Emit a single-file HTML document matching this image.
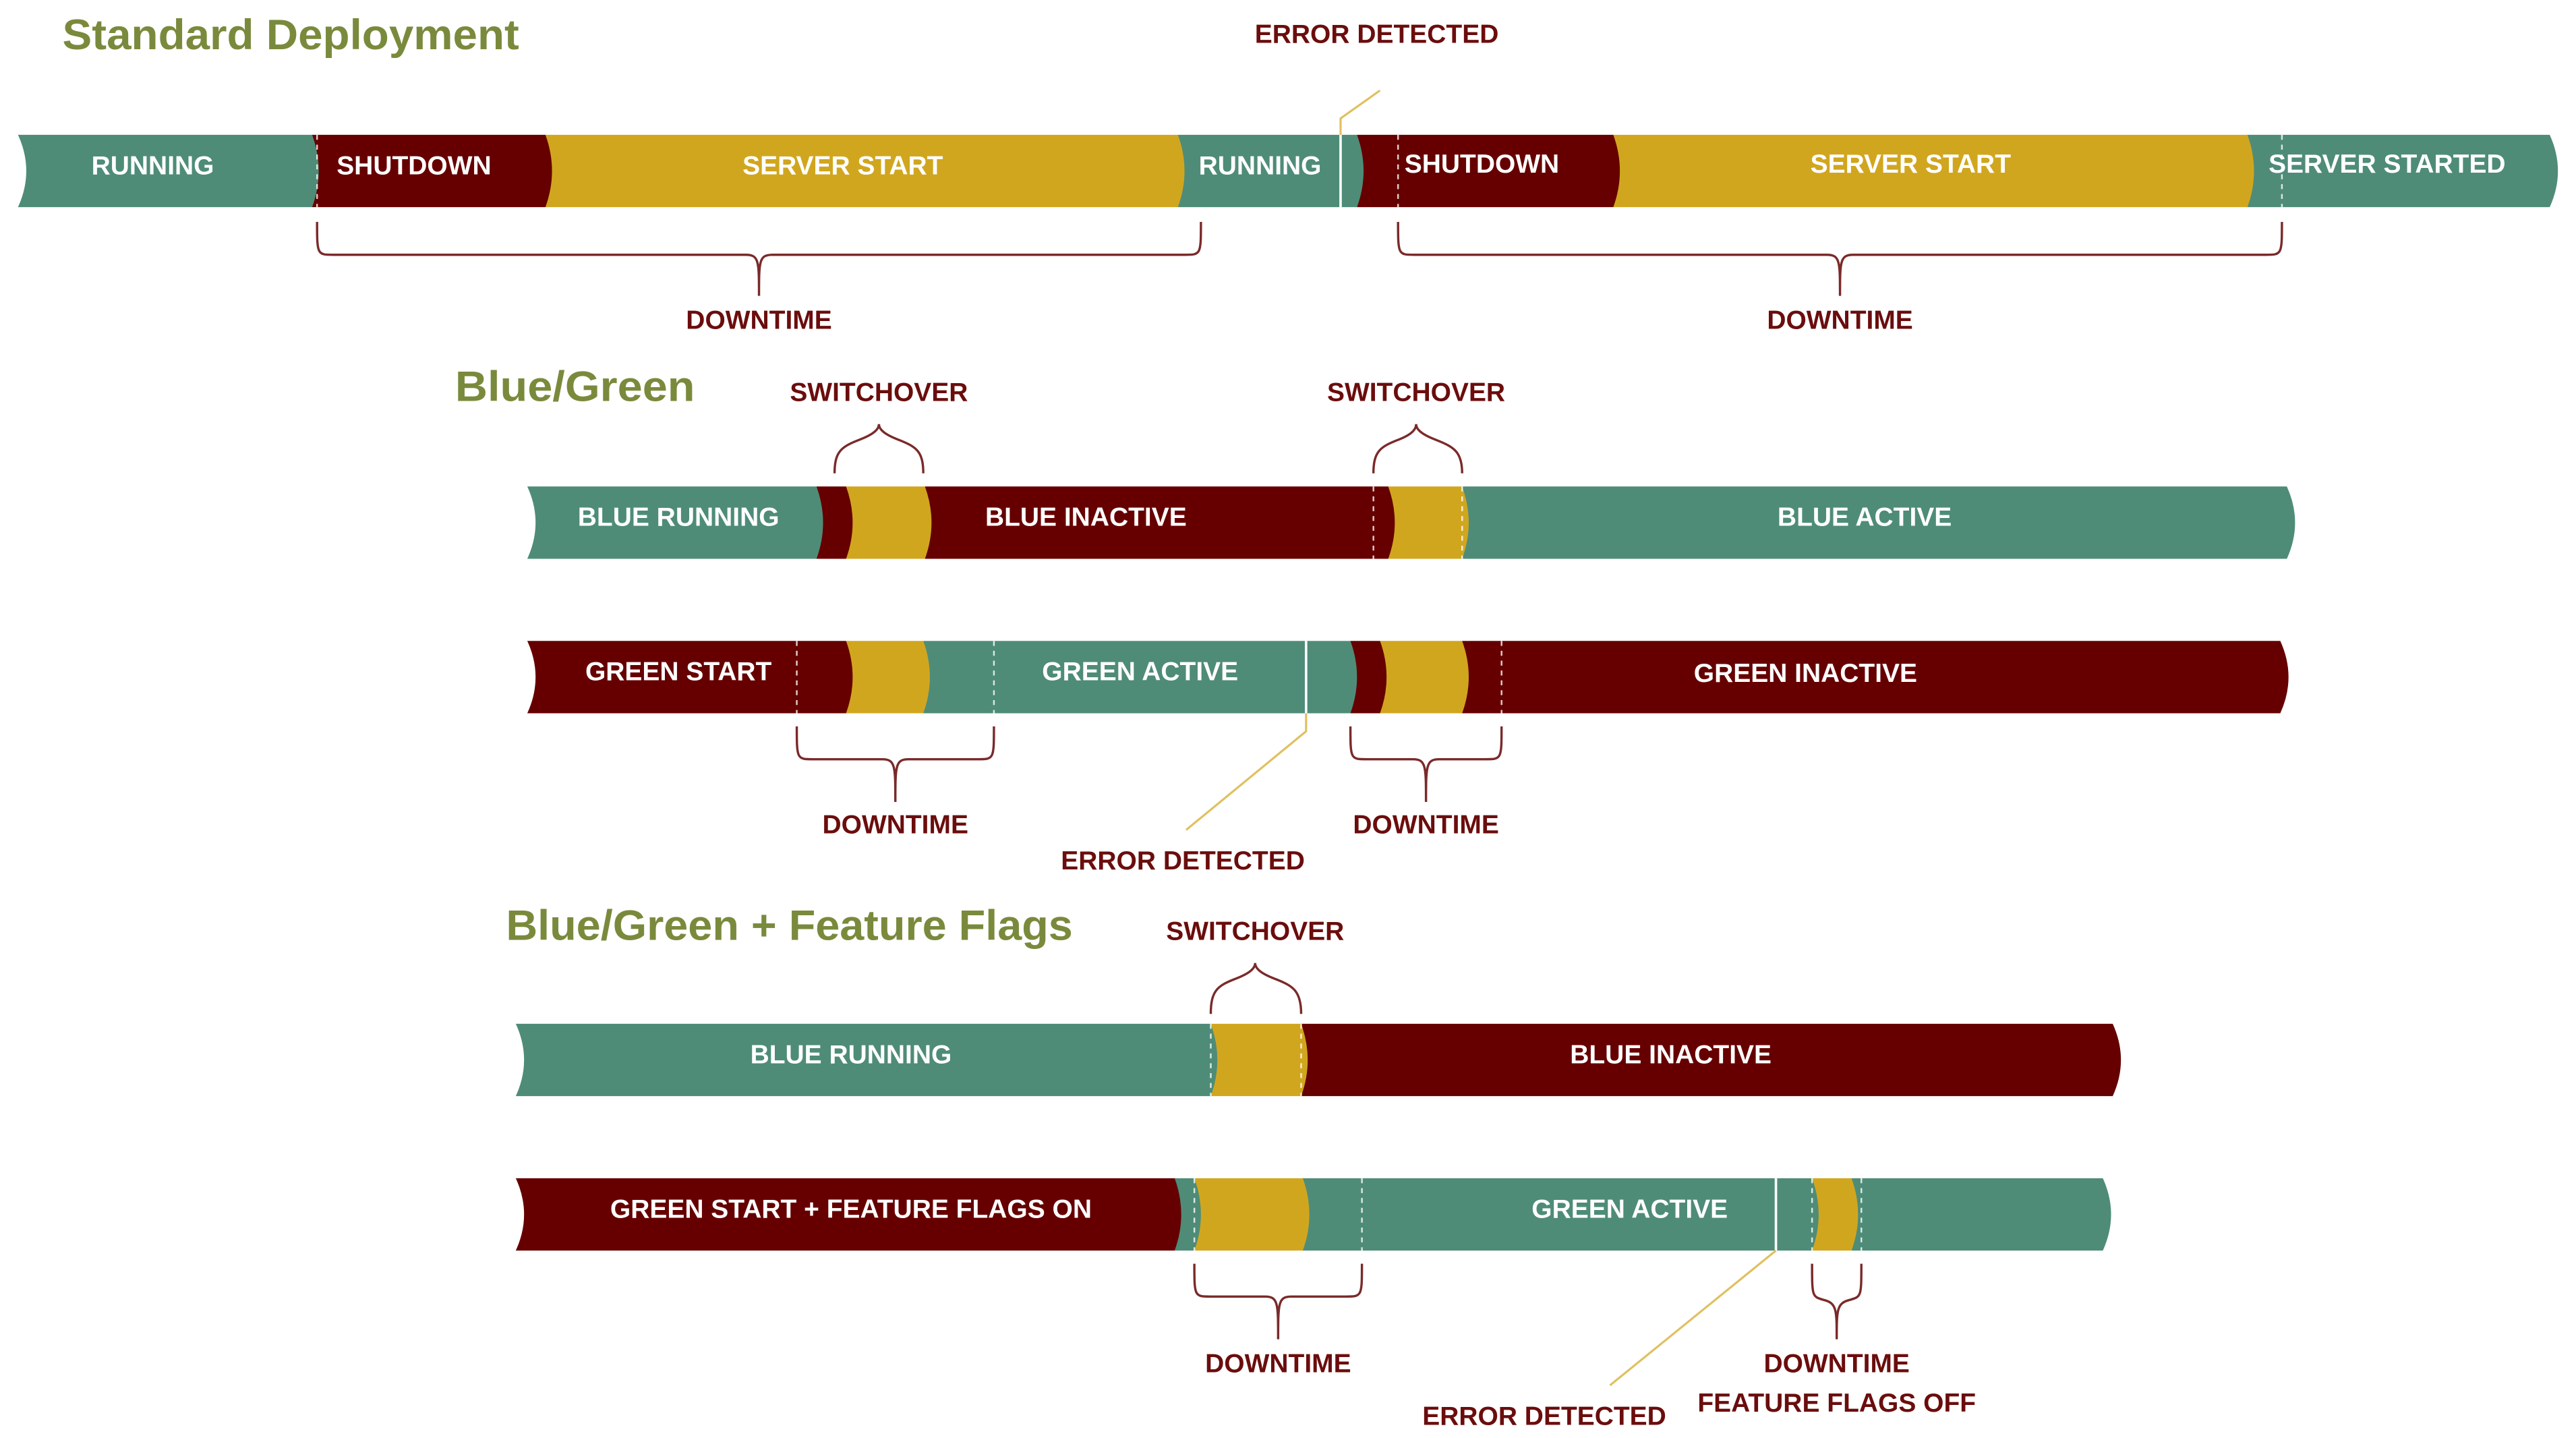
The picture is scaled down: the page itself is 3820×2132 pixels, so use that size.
<!DOCTYPE html>
<html><head><meta charset="utf-8"><style>
html,body{margin:0;padding:0;background:#fff;}
svg{display:block;}
.l{font-family:"Liberation Sans",sans-serif;font-weight:bold;font-size:16px;fill:#fff;text-anchor:middle;}
.d{font-family:"Liberation Sans",sans-serif;font-weight:bold;font-size:16px;fill:#6b0d0d;text-anchor:middle;}
.t{font-family:"Liberation Sans",sans-serif;font-weight:bold;font-size:26px;fill:#7a8a3c;}
.br{fill:none;stroke:#7a2a2a;stroke-width:1.4;}
.ds{stroke:#fff;stroke-width:1;stroke-dasharray:3,3;opacity:.8}
.so{stroke:#fff;stroke-width:1.5}
.el{stroke:#e0c060;stroke-width:1.3;fill:none}
</style></head><body>
<svg width="3820" height="2132" viewBox="0 0 1568 875" xmlns="http://www.w3.org/2000/svg">
<g>
<path fill="#4e8c78" d="M1368 82 L1552 82 Q1562 104 1552 126 L1368 126 Z"/>
<path fill="#d1a61f" d="M982 82 L1368 82 Q1376 104 1368 126 L982 126 Z"/>
<path fill="#660000" d="M826 82 L982 82 Q990 104 982 126 L826 126 Z"/>
<path fill="#4e8c78" d="M717 82 L826 82 Q834 104 826 126 L717 126 Z"/>
<path fill="#d1a61f" d="M332 82 L717 82 Q725 104 717 126 L332 126 Z"/>
<path fill="#660000" d="M190 82 L332 82 Q340 104 332 126 L190 126 Z"/>
<path fill="#4e8c78" d="M10 82 L190 82 Q198 104 190 126 L10 126 Z"/>
<path fill="#fff" d="M8 80 L10 80 Q22 104 10 128 L8 128 Z"/>
<line class="ds" x1="193" y1="82" x2="193" y2="126"/>
<line class="ds" x1="851" y1="82" x2="851" y2="126"/>
<line class="ds" x1="1389" y1="82" x2="1389" y2="126"/>
<line class="so" x1="816" y1="82" x2="816" y2="126"/>
<path class="el" d="M816 82 L816 72 L840 55"/>
<text class="l" x="93" y="106">RUNNING</text>
<text class="l" x="252" y="106">SHUTDOWN</text>
<text class="l" x="513" y="106">SERVER START</text>
<text class="l" x="767" y="106">RUNNING</text>
<text class="l" x="902" y="105">SHUTDOWN</text>
<text class="l" x="1163" y="105">SERVER START</text>
<text class="l" x="1453" y="105">SERVER STARTED</text>
<text class="d" x="838" y="26">ERROR DETECTED</text>
<text class="t" x="38" y="30" textLength="278" lengthAdjust="spacingAndGlyphs">Standard Deployment</text>
<path class="br" d="M193 135 C193 155,193 155,203 155 L454 155 C462 155,462 159,462 180 M731 135 C731 155,731 155,721 155 L470 155 C462 155,462 159,462 180"/>
<path class="br" d="M851 135 C851 155,851 155,861 155 L1112 155 C1120 155,1120 159,1120 180 M1389 135 C1389 155,1389 155,1379 155 L1128 155 C1120 155,1120 159,1120 180"/>
<text class="d" x="462" y="200">DOWNTIME</text>
<text class="d" x="1120" y="200">DOWNTIME</text>
</g>
<text class="t" x="277" y="244" textLength="146" lengthAdjust="spacingAndGlyphs">Blue/Green</text>
<text class="d" x="535" y="244">SWITCHOVER</text>
<text class="d" x="862" y="244">SWITCHOVER</text>
<path class="br" d="M508 288 C508 275,512 272,522 268 C530 265,535 262,535 258 C535 262,540 265,548 268 C558 272,562 275,562 288"/>
<path class="br" d="M836 288 C836 275,840 272,850 268 C858 265,862 262,862 258 C862 262,867 265,875 268 C885 272,890 275,890 288"/>
<g>
<path fill="#4e8c78" d="M890 296 L1392 296 Q1402 318 1392 340 L890 340 Z"/>
<path fill="#d1a61f" d="M845 296 L890 296 Q898 318 890 340 L845 340 Z"/>
<path fill="#660000" d="M563 296 L845 296 Q853 318 845 340 L563 340 Z"/>
<path fill="#d1a61f" d="M515 296 L563 296 Q571 318 563 340 L515 340 Z"/>
<path fill="#660000" d="M497 296 L515 296 Q523 318 515 340 L497 340 Z"/>
<path fill="#4e8c78" d="M320 296 L497 296 Q505 318 497 340 L320 340 Z"/>
<path fill="#fff" d="M318 294 L320 294 Q332 318 320 342 L318 342 Z"/>
<line class="ds" x1="836" y1="296" x2="836" y2="340"/>
<line class="ds" x1="890" y1="296" x2="890" y2="340"/>
<text class="l" x="413" y="320">BLUE RUNNING</text>
<text class="l" x="661" y="320">BLUE INACTIVE</text>
<text class="l" x="1135" y="320">BLUE ACTIVE</text>
</g>
<g>
<path fill="#660000" d="M890 390 L1388 390 Q1398 412 1388 434 L890 434 Z"/>
<path fill="#d1a61f" d="M840 390 L890 390 Q898 412 890 434 L840 434 Z"/>
<path fill="#660000" d="M822 390 L840 390 Q848 412 840 434 L822 434 Z"/>
<path fill="#4e8c78" d="M562 390 L822 390 Q830 412 822 434 L562 434 Z"/>
<path fill="#d1a61f" d="M515 390 L562 390 Q570 412 562 434 L515 434 Z"/>
<path fill="#660000" d="M320 390 L515 390 Q523 412 515 434 L320 434 Z"/>
<path fill="#fff" d="M318 388 L320 388 Q332 412 320 436 L318 436 Z"/>
<line class="ds" x1="485" y1="390" x2="485" y2="434"/>
<line class="ds" x1="605" y1="390" x2="605" y2="434"/>
<line class="ds" x1="914" y1="390" x2="914" y2="434"/>
<line class="so" x1="795" y1="390" x2="795" y2="434"/>
<path class="el" d="M795 434 L795 445 L722 505"/>
<text class="l" x="413" y="414">GREEN START</text>
<text class="l" x="694" y="414">GREEN ACTIVE</text>
<text class="l" x="1099" y="415">GREEN INACTIVE</text>
</g>
<path class="br" d="M485 442 C485 462,485 462,495 462 L537 462 C545 462,545 466,545 488 M605 442 C605 462,605 462,595 462 L553 462 C545 462,545 466,545 488"/>
<path class="br" d="M822 442 C822 462,822 462,832 462 L860 462 C868 462,868 466,868 488 M914 442 C914 462,914 462,904 462 L876 462 C868 462,868 466,868 488"/>
<text class="d" x="545" y="507">DOWNTIME</text>
<text class="d" x="868" y="507">DOWNTIME</text>
<text class="d" x="720" y="529">ERROR DETECTED</text>
<text class="t" x="308" y="572" textLength="345" lengthAdjust="spacingAndGlyphs">Blue/Green + Feature Flags</text>
<text class="d" x="764" y="572">SWITCHOVER</text>
<path class="br" d="M737 617 C737 603,741 600,751 596 C759 593,764 590,764 586 C764 590,769 593,777 596 C787 600,792 603,792 617"/>
<g>
<path fill="#660000" d="M792 623 L1286 623 Q1296 645 1286 667 L792 667 Z"/>
<path fill="#d1a61f" d="M737 623 L792 623 Q800 645 792 667 L737 667 Z"/>
<path fill="#4e8c78" d="M313 623 L737 623 Q745 645 737 667 L313 667 Z"/>
<path fill="#fff" d="M311 621 L313 621 Q325 645 313 669 L311 669 Z"/>
<line class="ds" x1="737" y1="623" x2="737" y2="667"/>
<line class="ds" x1="792" y1="623" x2="792" y2="667"/>
<text class="l" x="518" y="647">BLUE RUNNING</text>
<text class="l" x="1017" y="647">BLUE INACTIVE</text>
</g>
<g>
<path fill="#4e8c78" d="M1127 717 L1280 717 Q1290 739 1280 761 L1127 761 Z"/>
<path fill="#d1a61f" d="M1103 717 L1127 717 Q1135 739 1127 761 L1103 761 Z"/>
<path fill="#4e8c78" d="M793 717 L1103 717 Q1111 739 1103 761 L793 761 Z"/>
<path fill="#d1a61f" d="M727 717 L793 717 Q801 739 793 761 L727 761 Z"/>
<path fill="#4e8c78" d="M715 717 L727 717 Q735 739 727 761 L715 761 Z"/>
<path fill="#660000" d="M313 717 L715 717 Q723 739 715 761 L313 761 Z"/>
<path fill="#fff" d="M311 715 L313 715 Q325 739 313 763 L311 763 Z"/>
<line class="ds" x1="727" y1="717" x2="727" y2="761"/>
<line class="ds" x1="829" y1="717" x2="829" y2="761"/>
<line class="ds" x1="1103" y1="717" x2="1103" y2="761"/>
<line class="ds" x1="1133" y1="717" x2="1133" y2="761"/>
<line class="so" x1="1081" y1="717" x2="1081" y2="761"/>
<path class="el" d="M1081 761 L980 843"/>
<text class="l" x="518" y="741">GREEN START + FEATURE FLAGS ON</text>
<text class="l" x="992" y="741">GREEN ACTIVE</text>
</g>
<path class="br" d="M727 769 C727 789,727 789,737 789 L770 789 C778 789,778 793,778 815 M829 769 C829 789,829 789,819 789 L786 789 C778 789,778 793,778 815"/>
<path class="br" d="M1103 769 C1103 789,1103 789,1110 791 C1118 793,1118 797,1118 815 M1133 769 C1133 789,1133 789,1126 791 C1118 793,1118 797,1118 815"/>
<text class="d" x="778" y="835">DOWNTIME</text>
<text class="d" x="1118" y="835">DOWNTIME</text>
<text class="d" x="1118" y="859">FEATURE FLAGS OFF</text>
<text class="d" x="940" y="867">ERROR DETECTED</text>
</svg>
</body></html>
